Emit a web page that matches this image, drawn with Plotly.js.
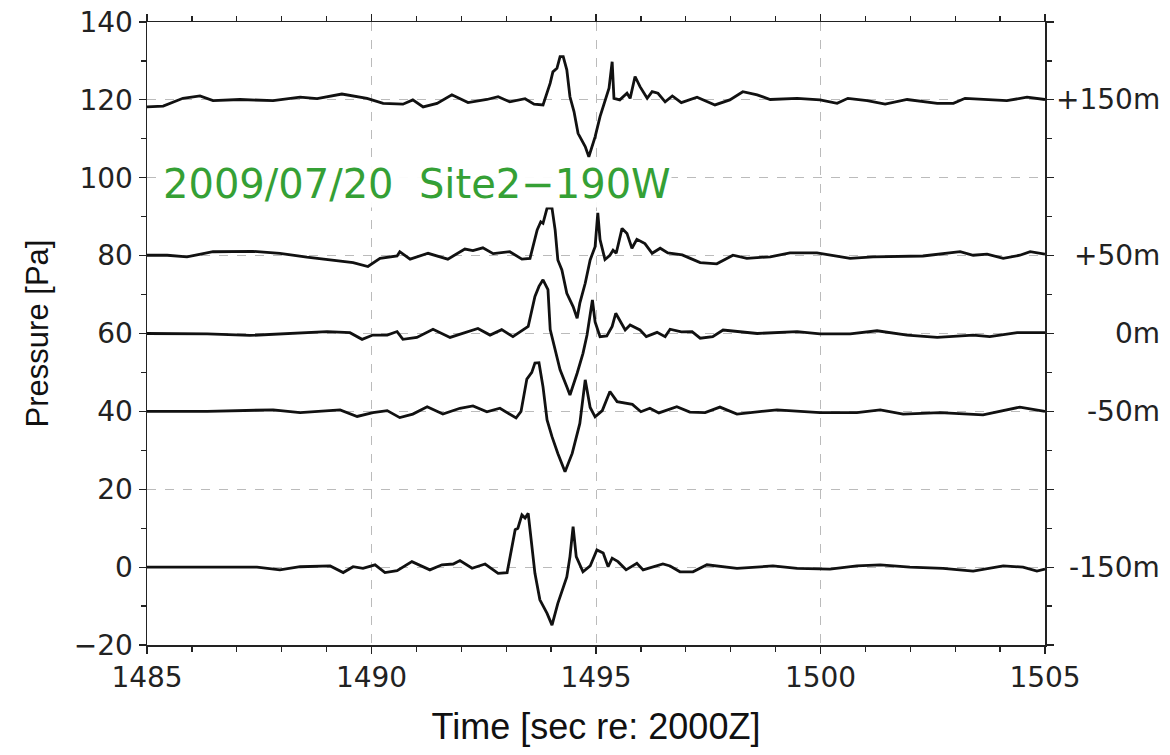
<!DOCTYPE html>
<html>
<head>
<meta charset="utf-8">
<script src="https://cdn.plot.ly/plotly-3.0.1.min.js"></script>
<style>
  html, body { margin: 0; padding: 0; background: #fff; }
  #chart { width: 1170px; height: 755px; }
</style>
</head>
<body>
<div id="chart"></div>
<script>
// ---- Data ----
// Trace at +150 m depth offset (plotted around 120 Pa)
const t150p = [1485.0,1485.36,1485.8,1486.18,1486.47,1487.07,1487.81,1488.41,1488.79,1489.34,1489.9,1490.26,1490.7,1490.92,1491.15,1491.46,1491.79,1492.15,1492.57,1492.82,1493.08,1493.42,1493.62,1493.82,1493.98,1494.04,1494.13,1494.2,1494.27,1494.35,1494.42,1494.51,1494.6,1494.76,1494.84,1494.98,1495.09,1495.24,1495.29,1495.36,1495.4,1495.53,1495.69,1495.76,1495.87,1495.98,1496.14,1496.25,1496.38,1496.54,1496.7,1496.9,1497.25,1497.65,1497.98,1498.27,1498.59,1498.88,1499.48,1499.99,1500.37,1500.61,1501.04,1501.44,1501.93,1502.6,1502.96,1503.22,1504.15,1504.6,1505.0];
const p150p = [118.2,118.4,120.4,121,119.8,120.1,119.8,120.7,120.3,121.5,120.4,119.1,118.9,120,118.2,119.1,121.3,119.3,120.1,120.8,119.5,120.3,118.9,118.7,124.3,127.2,128.1,131.1,131.1,127.7,120.8,117,111.4,108,105.4,110.5,115.7,121.7,123,129.8,120.4,120,121.7,120.4,126,123.4,120.4,122.1,121.7,119.5,121,119.3,120.7,118.7,120,122.1,121.3,120.1,120.4,120,119.1,120.4,119.8,118.9,120.1,119.1,119.1,120.4,119.8,120.7,120.1];

// Trace at +50 m (around 80 Pa)
const t50p = [1485.0,1485.45,1485.89,1486.47,1487.36,1487.96,1488.56,1489.14,1489.59,1489.92,1490.19,1490.57,1490.63,1490.86,1491.26,1491.7,1492.08,1492.26,1492.48,1492.71,1493.08,1493.35,1493.53,1493.69,1493.77,1493.82,1493.91,1494.02,1494.09,1494.15,1494.24,1494.35,1494.49,1494.58,1494.64,1494.76,1494.87,1494.98,1495.04,1495.09,1495.2,1495.31,1495.38,1495.45,1495.58,1495.69,1495.8,1495.91,1496.09,1496.25,1496.43,1496.6,1496.92,1497.1,1497.32,1497.69,1498.05,1498.36,1498.88,1499.32,1499.92,1500.66,1501.17,1502.28,1503.11,1503.4,1503.71,1504.07,1504.44,1504.67,1505.0];
const p50p = [80.1,80.1,79.7,81,81.1,80.6,79.6,78.9,78.2,77.2,79.3,79.9,81,79.1,80.6,79.1,81.7,81.3,82,80.5,81,79.1,79.3,86.6,88.7,88.3,92.2,92.2,86.6,78.9,76.3,70.3,66.9,63.9,67.8,72.9,78.9,82.3,91,84.1,79,80.1,81.4,80.6,87,85.7,81.9,84.2,83.1,80.6,81.9,80.7,80.2,79.3,78.2,77.9,80.1,79.3,79.7,80.7,80.7,79.3,79.7,79.9,81,80.1,80.4,79.3,80.1,81,80.4];

// Trace at 0 m (around 60 Pa)
const t0 = [1485.0,1486.34,1487.29,1488.18,1489.01,1489.52,1489.79,1490.03,1490.35,1490.57,1490.7,1491.01,1491.37,1491.75,1492.08,1492.37,1492.64,1492.9,1493.15,1493.35,1493.49,1493.64,1493.73,1493.82,1493.89,1493.93,1493.98,1494.09,1494.2,1494.35,1494.42,1494.58,1494.71,1494.8,1494.84,1494.92,1494.98,1495.09,1495.24,1495.36,1495.44,1495.58,1495.65,1495.76,1495.98,1496.12,1496.36,1496.54,1496.65,1496.9,1497.14,1497.32,1497.6,1497.83,1498.59,1499.48,1499.99,1500.66,1501.26,1501.93,1502.6,1503.4,1503.77,1504.38,1505.0];
const p0 = [60,59.9,59.5,60,60.5,60.2,58.5,59.6,59.6,60.5,58.5,59,61.1,59,60.2,61.3,59.6,61,59.2,60.6,61.8,69.5,72.1,73.8,72.1,71.3,61,55.8,50.7,46.3,44.2,49.8,54.9,59.6,62.6,68.6,63,59.2,59.4,61.8,65.2,62.5,60.9,62.2,60.9,59.2,60.3,59.2,61.1,60.4,60.5,58.8,59.2,60.9,60,60.5,59.9,59.9,60.7,59.6,59,59.6,59.2,60.2,60.2];

// Trace at -50 m (around 40 Pa)
const t50m = [1485.0,1486.34,1487.81,1488.41,1489.3,1489.68,1490.03,1490.35,1490.63,1490.92,1491.24,1491.59,1491.97,1492.26,1492.57,1492.86,1493.22,1493.33,1493.46,1493.57,1493.64,1493.73,1493.82,1493.91,1494.02,1494.15,1494.31,1494.47,1494.64,1494.76,1494.87,1494.98,1495.14,1495.31,1495.47,1495.6,1495.81,1496.0,1496.2,1496.4,1496.8,1497.09,1497.43,1497.76,1498.14,1499.03,1499.99,1500.81,1501.33,1501.84,1502.66,1503.62,1504.44,1505.0];
const p50m = [40,40,40.4,39.7,40.4,38.7,39.7,40.2,38.4,39.3,41.2,39.3,40.8,41.4,39.9,40.8,38.3,40,48.3,50,52.4,52.5,46.3,37.8,33.5,29.2,24.5,29.2,36.9,48.1,41,38.6,40.2,45.1,42.5,42.3,41.8,39.9,40.8,39.6,41.2,39.8,39.7,41.1,39.3,40.4,39.7,39.7,40.4,39.3,39.7,39.1,41.1,40];

// Trace at -150 m (around 0 Pa)
const t150m = [1485.0,1487.45,1487.96,1488.41,1489.08,1489.37,1489.59,1489.81,1490.08,1490.3,1490.57,1490.9,1491.3,1491.57,1491.82,1491.97,1492.24,1492.53,1492.82,1493.02,1493.2,1493.26,1493.35,1493.42,1493.49,1493.64,1493.75,1493.91,1494.02,1494.15,1494.35,1494.42,1494.49,1494.56,1494.71,1494.87,1495.02,1495.16,1495.27,1495.36,1495.49,1495.67,1495.91,1496.05,1496.49,1496.65,1496.87,1497.16,1497.47,1498.14,1498.94,1499.48,1500.21,1500.81,1501.33,1501.99,1502.73,1503.4,1504.07,1504.51,1504.82,1505.0];
const p150m = [0,0,-0.7,0.1,0.3,-1.4,0.1,-0.3,0.6,-1.4,-0.9,1.4,-0.7,0.6,0.8,1.7,-0.3,0.8,-1.6,-1.4,9.6,10,13.4,12.6,13.8,-1.6,-8.4,-11.9,-14.9,-9.3,-2.5,2.7,10.4,2.7,-1.2,0.3,4.4,3.6,0.1,2.3,1.4,-0.7,1,-0.7,0.8,0.3,-1.2,-1.2,0.6,-0.3,0.3,-0.3,-0.5,0.3,0.6,0,-0.3,-1,0.3,0,-1,-0.5];

// Right-side labels and their offsets
const depthLabels = ["+150m", "+50m", "0m", "-50m", "-150m"];
const depthOffsets = [120, 80, 60, 40, 0];

const chartTitle = "2009/07/20  Site2\u2212190W";

// ---- Build figure ----
const series = [[t150p, p150p], [t50p, p50p], [t0, p0], [t50m, p50m], [t150m, p150m]];
const traces = series.map((s, i) => ({
  x: s[0], y: s[1], type: 'scatter', mode: 'lines',
  name: depthLabels[i],
  line: { color: '#111', width: 2.8 },
  showlegend: false, hoverinfo: 'x+y'
}));

const annotations = depthLabels.map((lab, i) => ({
  text: lab, xref: 'paper', yref: 'y', x: 1.13, y: depthOffsets[i],
  xanchor: 'right', yanchor: 'middle', showarrow: false,
  font: { family: 'DejaVu Sans, sans-serif', size: 28, color: '#222' }
}));
annotations.push({
  text: chartTitle, xref: 'x', yref: 'y', x: 1485.33, y: 98.4,
  xanchor: 'left', yanchor: 'middle', showarrow: false,
  bgcolor: 'rgba(255,255,255,0.95)', borderpad: 0,
  font: { family: 'DejaVu Sans, sans-serif', size: 40, color: '#35a035' }
});

const axisCommon = {
  showline: true, linecolor: '#222', linewidth: 1.5, mirror: 'ticks',
  ticks: 'outside', ticklen: 7, tickwidth: 1.2, tickcolor: '#222',
  showgrid: true, gridcolor: '#bbbbbb', gridwidth: 1, griddash: 'dash',
  zeroline: false,
  tickfont: { family: 'DejaVu Sans, sans-serif', size: 28, color: '#222' }
};

const layout = {
  width: 1170, height: 755,
  margin: { l: 147, r: 125, t: 22, b: 110 },
  paper_bgcolor: '#fff', plot_bgcolor: '#fff',
  showlegend: false,
  xaxis: Object.assign({}, axisCommon, {
    range: [1485, 1505], dtick: 5, tick0: 1485,
    minor: { dtick: 1, ticks: 'outside', ticklen: 5, tickcolor: '#222', showgrid: false },
    title: { text: 'Time [sec re: 2000Z]', standoff: 20,
             font: { family: 'Liberation Sans, Arial, sans-serif', size: 36, color: '#111' } }
  }),
  yaxis: Object.assign({}, axisCommon, {
    range: [-20, 140], dtick: 20, tick0: 0,
    minor: { dtick: 10, ticks: 'outside', ticklen: 5, tickcolor: '#222', showgrid: false },
    title: { text: 'Pressure [Pa]', standoff: 16,
             font: { family: 'Liberation Sans, Arial, sans-serif', size: 31, color: '#111' } }
  }),
  annotations: annotations
};

Plotly.newPlot('chart', traces, layout, { displayModeBar: false, staticPlot: true });
</script>
</body>
</html>
